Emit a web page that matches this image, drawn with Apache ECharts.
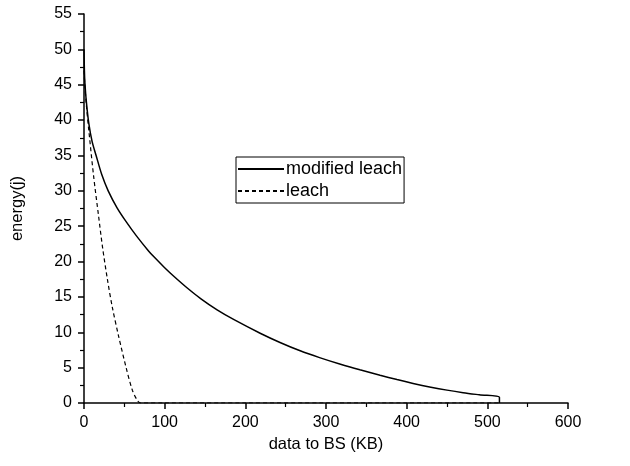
<!DOCTYPE html>
<html>
<head>
<meta charset="utf-8">
<script src="https://cdn.jsdelivr.net/npm/echarts@6/dist/echarts.min.js"></script>
<style>html,body{margin:0;padding:0;background:#fff;}#c{width:630px;height:466px;}</style>
</head>
<body>
<div id="c"></div>
<script>
var seriesNames = ['modified leach', 'leach'];
var modifiedX = [0, 0.5, 1, 3, 6, 10, 15, 22, 30, 41, 52, 65, 80, 87, 100, 112, 128, 145, 165, 186, 219, 243, 268, 292, 318, 342, 367, 388, 408, 430, 450, 470, 490, 515, 515];
var modifiedY = [50, 47, 45.5, 42.5, 39.5, 37, 35, 32.3, 30, 27.6, 25.68, 23.63, 21.5, 20.63, 19.13, 17.85, 16.26, 14.73, 13.17, 11.78, 9.83, 8.56, 7.38, 6.42, 5.48, 4.69, 3.92, 3.31, 2.77, 2.24, 1.82, 1.46, 1.16, 0.8, 0];
var leachX = [0, 1, 3, 6, 12, 18, 23, 29, 35, 43, 52, 60, 66, 70, 100, 200, 300, 400, 515];
var leachY = [47, 45, 42, 38.5, 32, 26.5, 22, 17.5, 13.6, 9.4, 5.1, 1.8, 0.4, 0, 0, 0, 0, 0, 0];
var xTicks = [0, 100, 200, 300, 400, 500, 600];
var yTicks = [0, 5, 10, 15, 20, 25, 30, 35, 40, 45, 50, 55];

function pairs(xs, ys) { return xs.map(function (x, i) { return [x, ys[i]]; }); }

var chart = echarts.init(document.getElementById('c'), null, {renderer: 'canvas'});
var font = 'Liberation Sans, Arial, sans-serif';
var axisCommon = {
  axisLine: {lineStyle: {color: '#000', width: 1.5}},
  axisTick: {inside: false, length: 6, lineStyle: {color: '#000', width: 1.5}},
  minorTick: {show: true, splitNumber: 2, length: 4, lineStyle: {color: '#000', width: 1.2}},
  splitLine: {show: false},
  nameTextStyle: {color: '#000', fontSize: 16.5, fontFamily: font}
};
chart.setOption({
  backgroundColor: '#fff',
  animation: false,
  grid: {left: 84, right: 62, top: 14, bottom: 63, containLabel: false},
  legend: {
    orient: 'vertical', left: 236, top: 157,
    data: seriesNames,
    itemWidth: 46, itemHeight: 17, itemGap: 4,
    itemStyle: {opacity: 0},
    borderColor: '#000', borderWidth: 1, padding: [3, 2, 3, 1],
    textStyle: {color: '#000', fontSize: 18, fontFamily: font, padding: [0, 0, 0, -3]}
  },
  xAxis: Object.assign({}, axisCommon, {
    type: 'value', min: xTicks[0], max: xTicks[xTicks.length - 1], interval: 100,
    name: 'data to BS (KB)', nameLocation: 'middle', nameGap: 29,
    axisLabel: {color: '#000', fontSize: 16, fontFamily: font, margin: 12}
  }),
  yAxis: Object.assign({}, axisCommon, {
    type: 'value', min: yTicks[0], max: yTicks[yTicks.length - 1], interval: 5,
    name: 'energy(j)', nameLocation: 'middle', nameGap: 58, nameRotate: 90,
    axisLabel: {color: '#000', fontSize: 16, fontFamily: font, margin: 12}
  }),
  series: [
    {name: seriesNames[0], type: 'line', data: pairs(modifiedX, modifiedY), symbol: 'none', smooth: 0.3,
     lineStyle: {color: '#000', width: 1.5, type: 'solid'}, itemStyle: {color: '#000'}, z: 3},
    {name: seriesNames[1], type: 'line', data: pairs(leachX, leachY), symbol: 'none', smooth: 0.3,
     lineStyle: {color: '#000', width: 1.2, type: [4, 3]}, itemStyle: {color: '#000'}, z: 2}
  ]
});
</script>
</body>
</html>
